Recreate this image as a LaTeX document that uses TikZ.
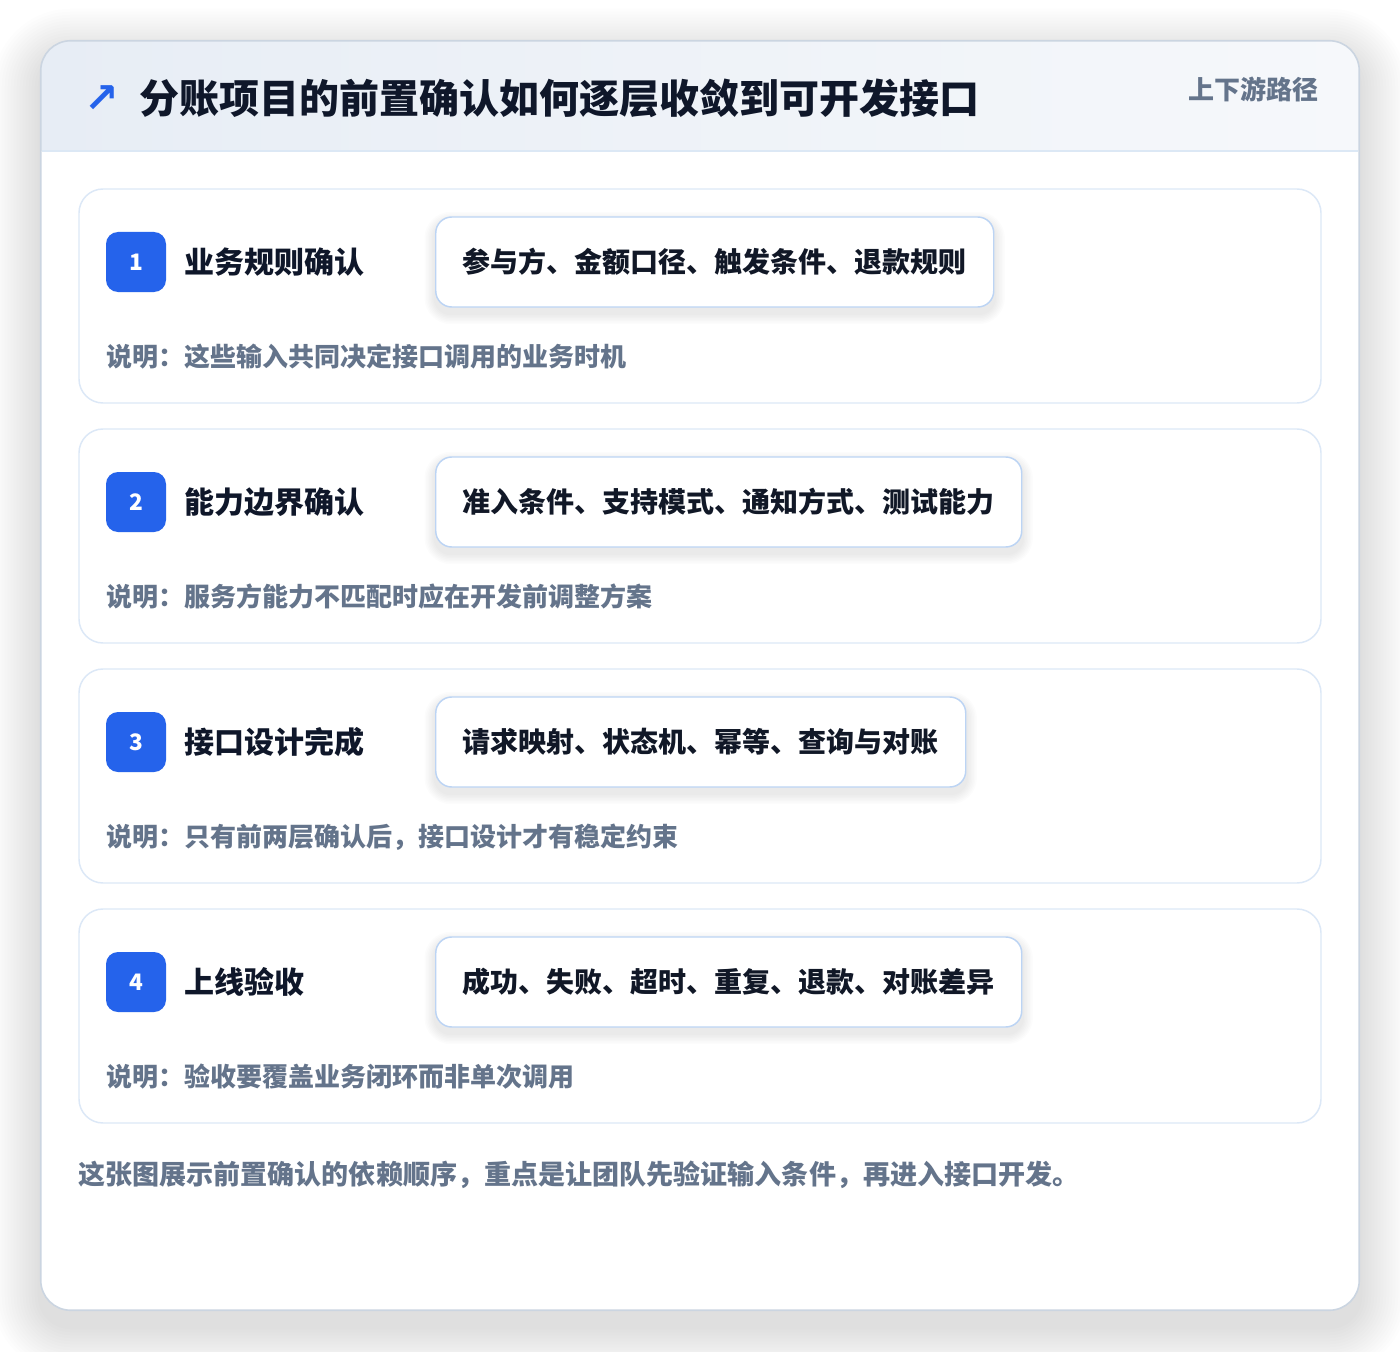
\documentclass[tikz,border=0pt]{standalone}
\usepackage{fontspec}
\setmainfont{Noto Sans CJK SC}
\newfontfamily\symfont{DejaVu Sans}
\definecolor{ink}{HTML}{0F172A}
\definecolor{chipink}{HTML}{111827}
\definecolor{muted}{HTML}{64748B}
\definecolor{accent}{HTML}{2563EB}
\definecolor{cardline}{HTML}{DCE8F7}
\definecolor{chipline}{HTML}{BCD4F4}
\definecolor{outerline}{HTML}{CBD5E1}
\definecolor{hdrL}{HTML}{E7EDF5}
\definecolor{hdrR}{HTML}{F6F8FB}
\definecolor{hdrline}{HTML}{DCE8F5}
\definecolor{shadowc}{HTML}{1E293B}
\tikzset{
  stepcard/.style={draw=cardline, line width=1.1pt, fill=white, rounded corners=18pt,
    minimum width=931.5pt, minimum height=160.5pt, inner sep=0pt},
  badge/.style={fill=accent, rounded corners=9pt, minimum width=45pt, minimum height=45pt,
    inner sep=0pt, text=white, font=\fontsize{17pt}{18pt}\selectfont\bfseries},
  steptitle/.style={anchor=west, inner sep=0pt, text=ink, font=\fontsize{22.5pt}{26pt}\selectfont\bfseries},
  chip/.style={anchor=west, draw=chipline, line width=1.1pt, fill=white, rounded corners=12pt,
    inner xsep=20.25pt, inner ysep=0pt, minimum height=67.5pt, text=chipink,
    font=\fontsize{21pt}{24pt}\selectfont\bfseries},
  note/.style={anchor=west, inner sep=0pt, text=muted, font=\fontsize{19.5pt}{22pt}\selectfont\bfseries},
}
% soft shadow behind a named node: #1 node, #2 steps, #3 grow per step (px), #4 yshift (px), #5 opacity, #6 radius (pt)
\newcommand{\softshadow}[6]{%
  \foreach \k in {1,...,#2}{%
    \fill[shadowc, opacity=#5, rounded corners=#6+\k*0.75pt*#3]
      ([xshift=-\k*0.75pt*#3, yshift=-#4*0.75pt+\k*0.75pt*#3]#1.north west) rectangle
      ([xshift=\k*0.75pt*#3, yshift=-#4*0.75pt-\k*0.75pt*#3]#1.south east);
  }%
}
\begin{document}
\begin{tikzpicture}[x=0.75pt,y=-0.75pt]
\useasboundingbox (0,0) rectangle (1400,1352);
\fill[white] (0,0) rectangle (1400,1352);
% outer card
\node[inner sep=0pt, minimum width=988.5pt, minimum height=951.75pt] (outer) at (700,675.5) {};
\softshadow{outer}{16}{3}{16}{0.006}{22.5pt}
\fill[white, rounded corners=22.5pt] (outer.north west) rectangle (outer.south east);
\begin{scope}
  \clip[rounded corners=22.5pt] (outer.north west) rectangle (outer.south east);
  \shade[left color=hdrL, right color=hdrR] (41,41) rectangle (1359,151);
\end{scope}
\draw[hdrline, line width=1.2pt] (41.6,151) -- (1358.4,151);
\draw[outerline, line width=1.2pt, rounded corners=22.5pt] (outer.north west) rectangle (outer.south east);
% header
\node[inner sep=0pt, text=accent, font=\symfont\bfseries\fontsize{31pt}{34pt}\selectfont] (arrow) at (102,99) {↗};
\node[anchor=west, inner sep=0pt, text=ink, font=\fontsize{30pt}{34pt}\selectfont\bfseries] (title) at (139,98) {分账项目的前置确认如何逐层收敛到可开发接口};
\node[anchor=east, inner sep=0pt, text=muted, font=\fontsize{19.5pt}{22pt}\selectfont\bfseries] (tag) at (1319,89) {上下游路径};
% step 1
\node[stepcard] (c1) at (700,296) {};
\node[badge] (b1) at (136,262) {1};
\node[steptitle] (t1) at (184,262) {业务规则确认};
\node[chip, draw=none, fill=none, text opacity=0] (s1) at (435,262) {参与方、金额口径、触发条件、退款规则};
\softshadow{s1}{7}{1.5}{6}{0.011}{12pt}
\node[chip] (p1) at (435,262) {参与方、金额口径、触发条件、退款规则};
\node[note] (n1) at (106,357) {说明：这些输入共同决定接口调用的业务时机};
% step 2
\node[stepcard] (c2) at (700,536) {};
\node[badge] (b2) at (136,502) {2};
\node[steptitle] (t2) at (184,502) {能力边界确认};
\node[chip, draw=none, fill=none, text opacity=0] (s2) at (435,502) {准入条件、支持模式、通知方式、测试能力};
\softshadow{s2}{7}{1.5}{6}{0.011}{12pt}
\node[chip] (p2) at (435,502) {准入条件、支持模式、通知方式、测试能力};
\node[note] (n2) at (106,597) {说明：服务方能力不匹配时应在开发前调整方案};
% step 3
\node[stepcard] (c3) at (700,776) {};
\node[badge] (b3) at (136,742) {3};
\node[steptitle] (t3) at (184,742) {接口设计完成};
\node[chip, draw=none, fill=none, text opacity=0] (s3) at (435,742) {请求映射、状态机、幂等、查询与对账};
\softshadow{s3}{7}{1.5}{6}{0.011}{12pt}
\node[chip] (p3) at (435,742) {请求映射、状态机、幂等、查询与对账};
\node[note] (n3) at (106,837) {说明：只有前两层确认后，接口设计才有稳定约束};
% step 4
\node[stepcard] (c4) at (700,1016) {};
\node[badge] (b4) at (136,982) {4};
\node[steptitle] (t4) at (184,982) {上线验收};
\node[chip, draw=none, fill=none, text opacity=0] (s4) at (435,982) {成功、失败、超时、重复、退款、对账差异};
\softshadow{s4}{7}{1.5}{6}{0.011}{12pt}
\node[chip] (p4) at (435,982) {成功、失败、超时、重复、退款、对账差异};
\node[note] (n4) at (106,1077) {说明：验收要覆盖业务闭环而非单次调用};
% footer
\node[anchor=west, inner sep=0pt, text=muted, font=\fontsize{20.3pt}{24pt}\selectfont\bfseries] (foot) at (78,1175) {这张图展示前置确认的依赖顺序，重点是让团队先验证输入条件，再进入接口开发。};
\end{tikzpicture}
\end{document}
